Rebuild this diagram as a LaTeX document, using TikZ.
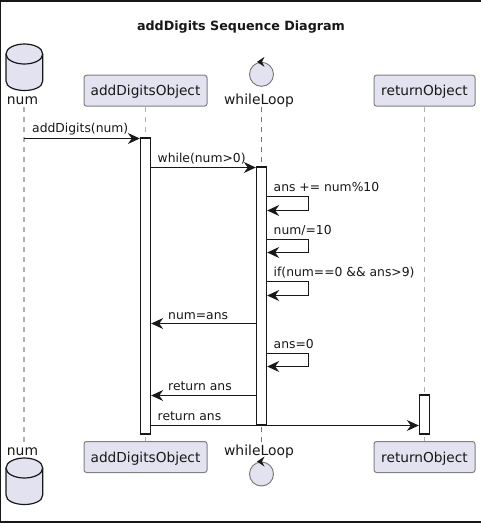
\documentclass[tikz,border=0pt]{standalone}
\usepackage{fontspec}
\setmainfont{DejaVu Sans}
\usetikzlibrary{arrows.meta}
\definecolor{partfill}{HTML}{E2E2F0}
\definecolor{ink}{HTML}{181818}
\definecolor{lifegray}{HTML}{B0B0B0}
\tikzset{
  x=1pt,y=-1pt,
  partbox/.style={draw=ink!55,line width=1pt,fill=partfill,rounded corners=2.5pt,inner sep=0pt,minimum height=31pt,text depth=0pt,font=\fontsize{13.7}{15}\selectfont,text=ink},
  partlabel/.style={inner sep=0pt,font=\fontsize{13.9}{15}\selectfont,text=ink,anchor=base},
  lifeline/.style={draw=lifegray,line width=1.6pt,dash pattern=on 5pt off 5pt},
  lifethin/.style={draw=ink!60,line width=0.9pt,dash pattern=on 5pt off 5pt},
  actbar/.style={draw=ink,line width=1.1pt,fill=white,inner sep=0pt},
  msg/.style={draw=ink,line width=1pt,-{Stealth[length=12pt,width=11pt,inset=4pt]}},
  msgtext/.style={inner sep=0pt,anchor=base west,font=\fontsize{12.35}{14}\selectfont,text=ink},
  cyl/.style={draw=ink,line width=1.2pt,fill=partfill},
  ctrl/.style={draw=ink!60,line width=0.9pt,fill=partfill,circle,inner sep=0pt,minimum size=24pt},
}
\begin{document}
\begin{tikzpicture}
\useasboundingbox (0,0) rectangle (481,523);
\fill[white] (0,0) rectangle (481,523);
% frame
\fill[ink] (0,0) rectangle (481,2);
\fill[ink] (0,521) rectangle (481,523);
\fill[ink] (0,0) rectangle (1.3,523);
% title
\node[inner sep=0pt,anchor=base,font=\fontsize{12.7}{15}\selectfont\bfseries,text=ink] (title) at (241,30) {addDigits Sequence Diagram};
% participants
\node[partbox,minimum width=123pt] (objT) at (145.5,90.7) {addDigitsObject};
\node[partbox,minimum width=101pt] (retT) at (424.5,90.7) {returnObject};
\node[partbox,minimum width=123pt] (objB) at (145.5,457) {addDigitsObject};
\node[partbox,minimum width=101pt] (retB) at (424.5,457) {returnObject};
\node[partlabel] (numT) at (22.5,104) {num};
\node[partlabel] (whT) at (259,104) {whileLoop};
\node[partlabel] (numB) at (22.5,455.5) {num};
\node[partlabel] (whB) at (259,455.5) {whileLoop};
% lifeline ends
\coordinate (l1a) at (24,107); \coordinate (l1b) at (24,442);
\coordinate (l3a) at (261.5,107); \coordinate (l3b) at (261.5,442);
\draw[lifeline] (l1a) -- (l1b);
\draw[lifeline] (objT.south) -- (objB.north);
\draw[lifethin] (l3a) -- (l3b);
\draw[lifeline] (retT.south) -- (retB.north);
% activations
\node[actbar,minimum width=10.3pt,minimum height=296pt] (actO) at (145.5,286) {};
\node[actbar,minimum width=10.3pt,minimum height=258pt] (actW) at (261.5,296) {};
\node[actbar,minimum width=10.3pt,minimum height=39pt] (actR) at (424.5,414.5) {};
% cylinders
\draw[cyl] (6,54) -- (6,81) .. controls (6,87) and (15,90.5) .. (24.4,90.5) .. controls (34,90.5) and (42.7,87) .. (42.7,81) -- (42.7,54) .. controls (42.7,48) and (34,44) .. (24.4,44) .. controls (15,44) and (6,48) .. (6,54) -- cycle;
\draw[cyl] (6,54) .. controls (6,60) and (15,64) .. (24.4,64) .. controls (34,64) and (42.7,60) .. (42.7,54);
\draw[cyl] (6,468) -- (6,495) .. controls (6,501) and (15,504.5) .. (24.4,504.5) .. controls (34,504.5) and (42.7,501) .. (42.7,495) -- (42.7,468) .. controls (42.7,462) and (34,458) .. (24.4,458) .. controls (15,458) and (6,462) .. (6,468) -- cycle;
\draw[cyl] (6,468) .. controls (6,474) and (15,478) .. (24.4,478) .. controls (34,478) and (42.7,474) .. (42.7,468);
% control circles
\node[ctrl] (ctlT) at (261.5,74.3) {};
\node[ctrl] (ctlB) at (261.5,474) {};
\fill[ink] (ctlT.north) ++(-4.5,0) -- ++(7.5,-5) -- ++(-2.5,5) -- ++(2.5,5) -- cycle;
\fill[ink] (ctlB.north) ++(-4.5,0) -- ++(7.5,-5) -- ++(-2.5,5) -- ++(2.5,5) -- cycle;
% messages
\coordinate (m1) at (24,138.5);
\draw[msg] (m1) -- (actO.west |- m1);
\node[msgtext] (t1) at (32,132.5) {addDigits(num)};
\coordinate (m2) at (151,167.5);
\draw[msg] (m2) -- (actW.west |- m2);
\node[msgtext] (t2) at (157.5,162) {while(num>0)};
\foreach \name/\ya/\yb/\txt in {a/196.5/210.5/{ans += num\%10},b/239.5/252.5/{num/=10},c/281.5/295.5/{if(num==0 \&\& ans>9)},d/353.5/366.5/{ans=0}}{
  \coordinate (s\name) at (266.7,\ya);
  \coordinate (r\name) at (308.5,\ya);
  \coordinate (q\name) at (308.5,\yb);
  \coordinate (e\name) at (267.2,\yb);
  \draw[msg] (s\name) -- (r\name) -- (q\name) -- (e\name);
  \node[msgtext] at (273.5,\ya-5) {\txt};
}
\coordinate (m3) at (256,323.5);
\draw[msg] (m3) -- (actO.east |- m3);
\node[msgtext] (t3) at (168,319) {num=ans};
\coordinate (m4) at (256,395.5);
\draw[msg] (m4) -- (actO.east |- m4);
\node[msgtext] (t4) at (168,390) {return ans};
\coordinate (m5) at (151,425.5);
\draw[msg] (m5) -- (actR.west |- m5);
\node[msgtext] (t5) at (157.5,420) {return ans};
\end{tikzpicture}
\end{document}
